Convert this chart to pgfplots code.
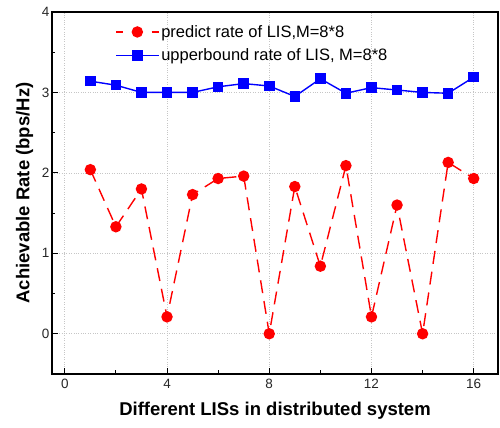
\documentclass[border=0pt]{standalone}
\usepackage{fontspec}
\setmainfont{Liberation Sans}
\usepackage{pgfplots}
\pgfplotsset{compat=1.18}
\usetikzlibrary{calc}
\definecolor{predred}{HTML}{FF0000}
\definecolor{ubblue}{HTML}{0000FF}

\begin{document}
\begin{tikzpicture}
\begin{axis}[
  name=ax,
  scale only axis,
  width=446bp,height=362bp,
  xmin=-0.5,xmax=16.95,ymin=-0.5,ymax=4,
  xtick={0,4,8,12,16},
  ytick={0,1,2,3,4},
  minor x tick num=1,
  minor y tick num=1,
  xtick pos=bottom,ytick pos=left,
  tick align=inside,
  major tick length=6bp,minor tick length=3.5bp,
  tick style={black,line width=1pt},
  axis line style={black,line width=1.3pt},
  grid=major,
  major grid style={gray!45,dotted,line width=0.6pt},
  /pgf/number format/assume math mode=true,
  tick label style={font=\fontsize{13.5bp}{15bp}\selectfont,text=black!85},
  xticklabel style={yshift=-2bp},
  yticklabel style={xshift=1bp},
  xlabel={\bfseries Different LISs in distributed system},
  ylabel={\bfseries Achievable Rate (bps/Hz)},
  label style={font=\fontsize{18.5bp}{21bp}\selectfont},
  xlabel style={yshift=-6bp},
  ylabel style={yshift=2bp},
  legend style={at={(0.135,0.975)},anchor=north west,draw=none,fill=none,
    font=\fontsize{16.5bp}{19bp}\selectfont,row sep=6bp,
    /tikz/every even column/.append style={column sep=2bp}},
  legend cell align=left,
  legend image code/.code={%
    \draw[mark repeat=2,mark phase=2] plot coordinates {(0cm,0cm) (0.75cm,0cm) (1.5cm,0cm)};},
]
\addplot[predred,line width=1.4pt,dash pattern=on 13bp off 8bp,
  mark=*,mark size=5bp,mark options={solid,fill=predred,draw=predred},
  legend image code/.code={%
    \draw[solid] (0bp,0bp) -- (7bp,0bp);
    \draw[solid] (35.5bp,0bp) -- (42.5bp,0bp);
    \draw[draw=none] plot[mark repeat=2,mark phase=2] coordinates {(0bp,0bp) (21.25bp,0bp) (42.5bp,0bp)};}
  ] coordinates {
  (1,2.04) (2,1.33) (3,1.80) (4,0.21) (5,1.73) (6,1.93) (7,1.96) (8,0.00)
  (9,1.83) (10,0.84) (11,2.09) (12,0.21) (13,1.60) (14,0.00) (15,2.13) (16,1.93)};
\addlegendentry{predict rate of LIS,M=8*8}
\addplot[ubblue,line width=1.4pt,
  mark=square*,mark size=4.6bp,mark options={solid,fill=ubblue,draw=ubblue}] coordinates {
  (1,3.14) (2,3.09) (3,3.00) (4,3.00) (5,3.00) (6,3.07) (7,3.11) (8,3.08)
  (9,2.95) (10,3.17) (11,2.99) (12,3.06) (13,3.03) (14,3.00) (15,2.99) (16,3.19)};
\addlegendentry{upperbound rate of LIS, M=8*8}
\end{axis}
\pgfresetboundingbox
\path ($(ax.south west)+(-52bp,-54bp)$) rectangle ($(ax.north east)+(2bp,12bp)$);
\end{tikzpicture}
\end{document}
